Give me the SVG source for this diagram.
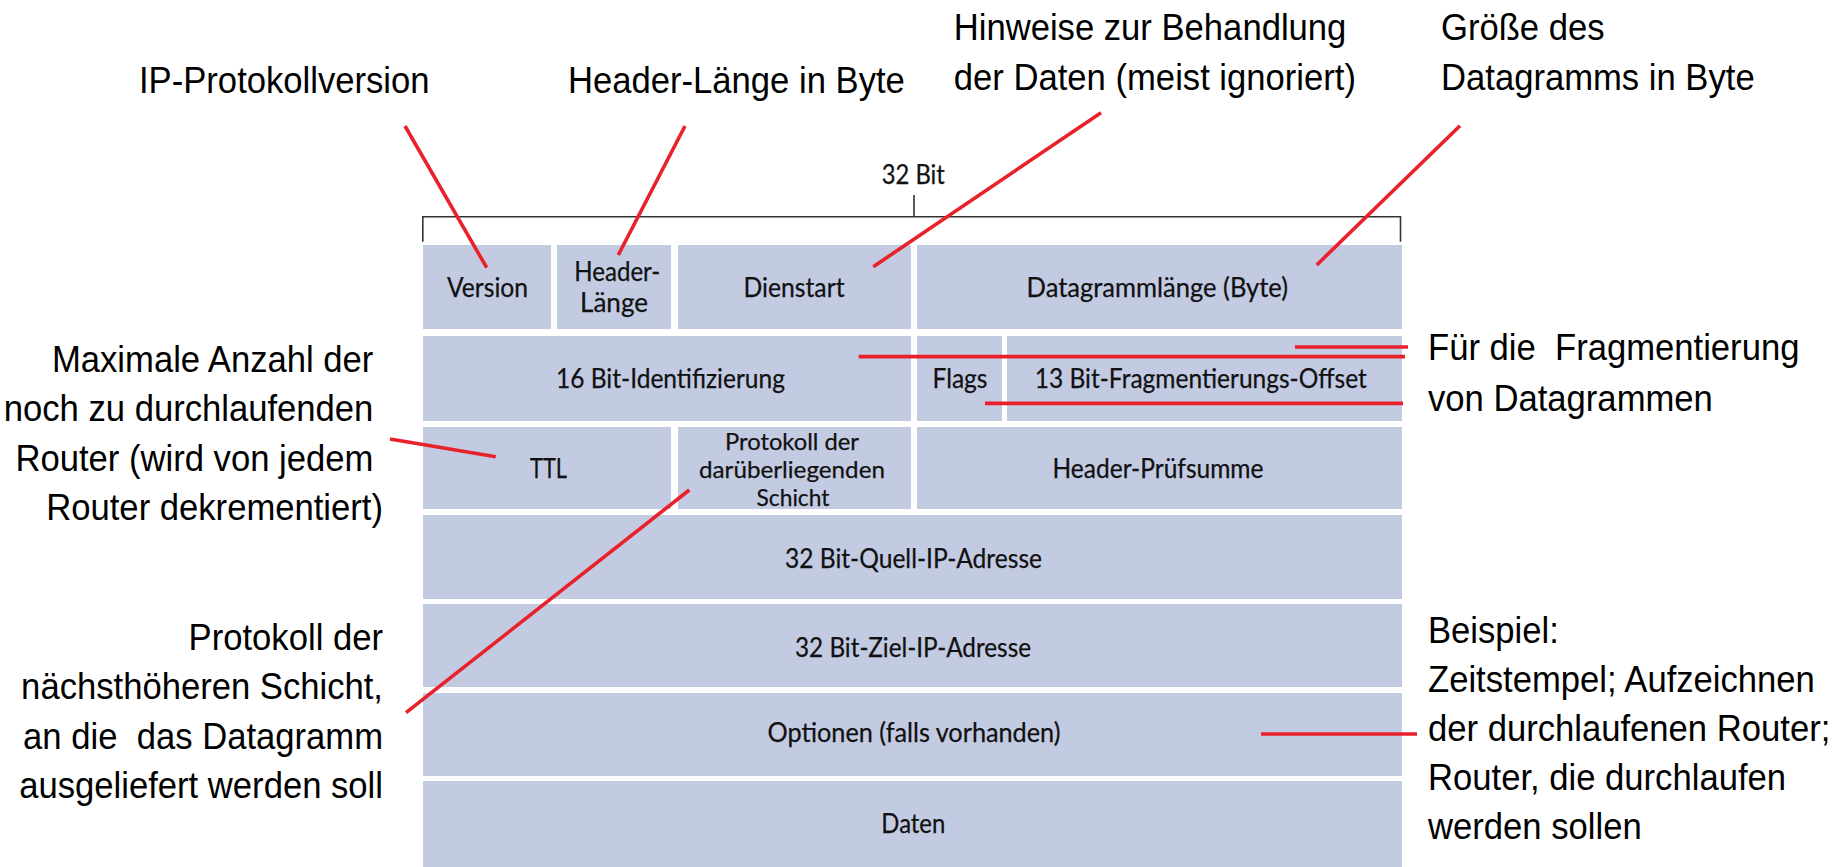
<svg xmlns="http://www.w3.org/2000/svg" width="1839" height="867" viewBox="0 0 1839 867">
  <style>
    .cell { fill: #c3cbe3; }
    .ct { font-family: Lato, "Liberation Sans", sans-serif; font-size: 26px; fill: #111; stroke: #111; stroke-width: 0.25; text-anchor: middle; }
    .ct.tight { font-size: 24px; }
    .note { font-family: "Liberation Sans", Arial, sans-serif; font-size: 37px; fill: #000; }
    .end { text-anchor: end; }
    .lead { stroke: #e8212a; stroke-width: 3.6; fill: none; stroke-linecap: butt; }
    .brace { stroke: #333; stroke-width: 1.6; fill: none; }
  </style>
  <rect width="1839" height="867" fill="#fff"/>

  <!-- 32-bit width bracket -->
  <g id="width-bracket">
    <path class="brace" d="M422.8,241.7 V216.7 H1400.5 V241.7 M914,216.7 V195"/>
    <text class="ct" x="913.3" y="184.3" textLength="63" lengthAdjust="spacingAndGlyphs">32 Bit</text>
  </g>

  <!-- header fields, row 1 -->
  <g id="field-version"><rect class="cell" x="423" y="245" width="128" height="84"/>
    <text class="ct" x="487.5" y="296.7" textLength="81" lengthAdjust="spacingAndGlyphs">Version</text></g>
  <g id="field-header-length"><rect class="cell" x="557" y="245" width="114" height="84"/>
    <text class="ct" x="617.3" y="280.7" textLength="86" lengthAdjust="spacingAndGlyphs">Header-</text>
    <text class="ct" x="614" y="311.7" textLength="68" lengthAdjust="spacingAndGlyphs">Länge</text></g>
  <g id="field-service"><rect class="cell" x="678" y="245" width="233" height="84"/>
    <text class="ct" x="794" y="296.7" textLength="101" lengthAdjust="spacingAndGlyphs">Dienstart</text></g>
  <g id="field-total-length"><rect class="cell" x="917" y="245" width="485" height="84"/>
    <text class="ct" x="1157.3" y="296.7" textLength="261.5" lengthAdjust="spacingAndGlyphs">Datagrammlänge (Byte)</text></g>

  <!-- row 2 -->
  <g id="field-identification"><rect class="cell" x="423" y="336" width="488" height="85"/>
    <text class="ct" x="670.5" y="388.3" textLength="229" lengthAdjust="spacingAndGlyphs">16 Bit-Identifizierung</text></g>
  <g id="field-flags"><rect class="cell" x="917" y="336" width="85" height="85"/>
    <text class="ct" x="960" y="388.3" textLength="55" lengthAdjust="spacingAndGlyphs">Flags</text></g>
  <g id="field-fragment-offset"><rect class="cell" x="1007" y="336" width="395" height="85"/>
    <text class="ct" x="1200.8" y="388.3" textLength="332" lengthAdjust="spacingAndGlyphs">13 Bit-Fragmentierungs-Offset</text></g>

  <!-- row 3 -->
  <g id="field-ttl"><rect class="cell" x="423" y="427" width="248" height="82"/>
    <text class="ct" x="548.5" y="478.3" textLength="37" lengthAdjust="spacingAndGlyphs">TTL</text></g>
  <g id="field-protocol"><rect class="cell" x="678" y="427" width="233" height="82"/>
    <text class="ct tight" x="792" y="450" textLength="134" lengthAdjust="spacingAndGlyphs">Protokoll der</text>
    <text class="ct tight" x="792" y="478.3" textLength="186" lengthAdjust="spacingAndGlyphs">darüberliegenden</text>
    <text class="ct tight" x="793" y="506" textLength="73" lengthAdjust="spacingAndGlyphs">Schicht</text></g>
  <g id="field-checksum"><rect class="cell" x="917" y="427" width="485" height="82"/>
    <text class="ct" x="1158" y="478.3" textLength="211" lengthAdjust="spacingAndGlyphs">Header-Prüfsumme</text></g>

  <!-- rows 4 to 7 -->
  <g id="field-source"><rect class="cell" x="423" y="515" width="979" height="84"/>
    <text class="ct" x="913.5" y="568.3" textLength="257" lengthAdjust="spacingAndGlyphs">32 Bit-Quell-IP-Adresse</text></g>
  <g id="field-destination"><rect class="cell" x="423" y="604" width="979" height="83"/>
    <text class="ct" x="913" y="656.7" textLength="236" lengthAdjust="spacingAndGlyphs">32 Bit-Ziel-IP-Adresse</text></g>
  <g id="field-options"><rect class="cell" x="423" y="693" width="979" height="83"/>
    <text class="ct" x="914" y="741.7" textLength="293" lengthAdjust="spacingAndGlyphs">Optionen (falls vorhanden)</text></g>
  <g id="field-data"><rect class="cell" x="423" y="781" width="979" height="90"/>
    <text class="ct" x="913.3" y="833.3" textLength="64" lengthAdjust="spacingAndGlyphs">Daten</text></g>

  <!-- leader lines -->
  <g id="connectors">
    <line class="lead" x1="405" y1="126" x2="486.7" y2="267.7"/>
    <line class="lead" x1="685" y1="126" x2="618.3" y2="255"/>
    <line class="lead" x1="1101" y1="112.7" x2="873.3" y2="266.7"/>
    <line class="lead" x1="1460" y1="125.7" x2="1316.7" y2="265"/>
    <line class="lead" x1="1295" y1="347" x2="1408" y2="347"/>
    <line class="lead" x1="858.7" y1="356.6" x2="1405" y2="356.6"/>
    <line class="lead" x1="985" y1="403.4" x2="1403" y2="403.4"/>
    <line class="lead" x1="390" y1="439" x2="495.7" y2="456.7"/>
    <line class="lead" x1="406" y1="712.7" x2="689.3" y2="490"/>
    <line class="lead" x1="1261" y1="734" x2="1417" y2="734"/>
  </g>

  <!-- annotations -->
  <g id="note-version">
    <text class="note" transform="translate(139 93) scale(0.936 1)">IP-Protokollversion</text>
  </g>
  <g id="note-header-length">
    <text class="note" transform="translate(568 93) scale(0.936 1)">Header-Länge in Byte</text>
  </g>
  <g id="note-service">
    <text class="note end" transform="translate(1356 40) scale(0.936 1)">
      <tspan x="0" y="0">Hinweise zur Behandlung</tspan>
      <tspan x="0" y="50">der Daten (meist ignoriert)</tspan>
    </text>
  </g>
  <g id="note-total-length">
    <text class="note" transform="translate(1441 40) scale(0.936 1)">
      <tspan x="0" y="0">Größe des</tspan>
      <tspan x="0" y="50">Datagramms in Byte</tspan>
    </text>
  </g>
  <g id="note-fragmentation">
    <text class="note" xml:space="preserve" transform="translate(1428 360) scale(0.936 1)"><tspan x="0" y="0">Für die  Fragmentierung</tspan><tspan x="0" y="51">von Datagrammen</tspan></text>
  </g>
  <g id="note-ttl">
    <text class="note end" transform="translate(383 372) scale(0.936 1)">
      <tspan x="0" y="0">Maximale Anzahl der</tspan>
      <tspan x="0" y="49.5">noch zu durchlaufenden</tspan>
      <tspan x="0" y="99">Router (wird von jedem</tspan>
      <tspan x="0" y="148.5">Router dekrementiert)</tspan>
    </text>
  </g>
  <g id="note-protocol">
    <text class="note end" xml:space="preserve" transform="translate(383 650) scale(0.936 1)"><tspan x="0" y="0">Protokoll der</tspan><tspan x="0" y="49.5">nächsthöheren Schicht,</tspan><tspan x="0" y="99">an die  das Datagramm</tspan><tspan x="0" y="148.5">ausgeliefert werden soll</tspan></text>
  </g>
  <g id="note-options">
    <text class="note" transform="translate(1428 643) scale(0.936 1)">
      <tspan x="0" y="0">Beispiel:</tspan>
      <tspan x="0" y="49">Zeitstempel; Aufzeichnen</tspan>
      <tspan x="0" y="98">der durchlaufenen Router;</tspan>
      <tspan x="0" y="147">Router, die durchlaufen</tspan>
      <tspan x="0" y="196">werden sollen</tspan>
    </text>
  </g>
</svg>
